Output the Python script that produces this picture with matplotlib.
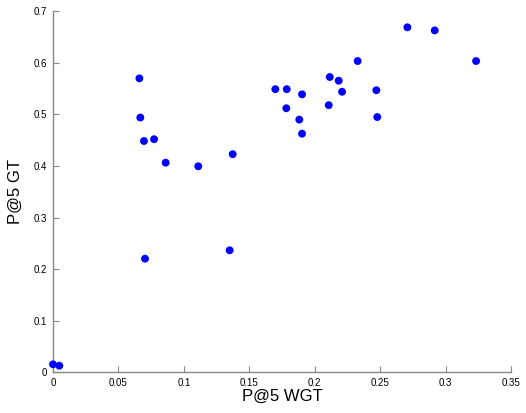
import matplotlib
matplotlib.use("Agg")
import matplotlib.pyplot as plt

# P@5 WGT vs P@5 GT
wgt = [0.0660, 0.0667, 0.0695, 0.0772, 0.0861, 0.1110, 0.1373,
       0.2708, 0.2917, 0.3233, 0.2328, 0.2115, 0.2183, 0.2209,
       0.2471, 0.2478, 0.1699, 0.1786, 0.1903, 0.1783, 0.1882,
       0.1903, 0.2107, 0.0703, 0.1350, 0.0000, 0.0048]
gt = [0.570, 0.494, 0.4485, 0.452, 0.4065, 0.3995, 0.423,
      0.669, 0.663, 0.6036, 0.6036, 0.5726, 0.5655, 0.544,
      0.547, 0.495, 0.549, 0.549, 0.539, 0.512, 0.490,
      0.4627, 0.518, 0.2203, 0.2366, 0.0155, 0.0128]

xticks = [0, 0.05, 0.1, 0.15, 0.2, 0.25, 0.3, 0.35]
xticklabels = ["0", "0.05", "0.1", "0.15", "0.2", "0.25", "0.3", "0.35"]
yticks = [0, 0.1, 0.2, 0.3, 0.4, 0.5, 0.6, 0.7]
yticklabels = ["0", "0.1", "0.2", "0.3", "0.4", "0.5", "0.6", "0.7"]

plt.rcParams['font.family'] = ['Liberation Sans', 'DejaVu Sans']

fig = plt.figure(figsize=(5.26, 4.13), dpi=100)
ax = fig.add_axes([0.1008, 0.0985, 0.8707, 0.8741])
ax.scatter(wgt, gt, s=32, color='#0000ff', edgecolors='none', clip_on=False, zorder=3)

ax.set_xlim(0, 0.35)
ax.set_ylim(0, 0.7)
ax.set_xticks(xticks)
ax.set_xticklabels(xticklabels)
ax.set_yticks(yticks)
ax.set_yticklabels(yticklabels)

for s in ['top', 'right']:
    ax.spines[s].set_visible(False)
for s in ['left', 'bottom']:
    ax.spines[s].set_color('#888888')
    ax.spines[s].set_linewidth(1.0)
ax.tick_params(direction='in', length=4, width=0.8, color='#888888',
               labelsize=7, labelcolor='black', pad=4)

ax.set_xlabel('P@5 WGT', fontsize=12, labelpad=1)
ax.set_ylabel('P@5 GT', fontsize=12, labelpad=8)

fig.savefig('out.png', dpi=100)
